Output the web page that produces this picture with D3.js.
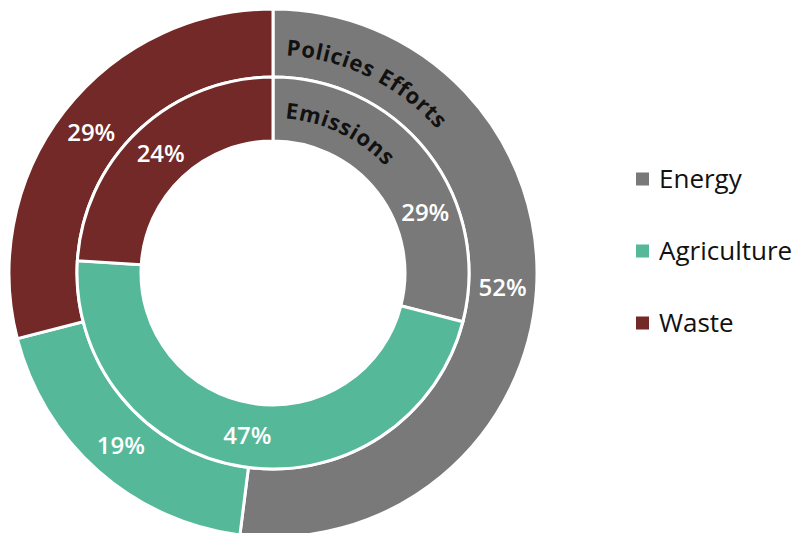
<!DOCTYPE html>
<html>
<head>
<meta charset="utf-8">
<script src="https://cdn.jsdelivr.net/npm/d3@7"></script>
<style>
  html, body { margin: 0; padding: 0; background: #fff; }
  svg { display: block; }
</style>
</head>
<body>
<svg id="chart" width="799" height="533"></svg>
<script>
// Sector shares, in percent
const categories = ["Energy", "Agriculture", "Waste"];
const policiesEfforts = [52, 19, 29];   // outer ring
const emissions = [29, 47, 24];         // inner ring
const ringTitles = ["Policies Efforts", "Emissions"];
const colors = ["#797979", "#55b899", "#722927"];

const svg = d3.select("#chart");
const cx = 273, cy = 273;
const rings = [
  { title: ringTitles[0], values: policiesEfforts, inner: 196, outer: 264, titleR: 218, titleStart: 3.4 },
  { title: ringTitles[1], values: emissions, inner: 132, outer: 196, titleR: 155, titleStart: 4.4 }
];
// angular nudge (degrees) for labels that would collide with the ring title
const labelShift = [[0, 0, 0], [16, 0, 0]];

const color = d3.scaleOrdinal().domain(categories).range(colors);
const pie = d3.pie().sort(null).value(d => d.value);

const g = svg.append("g").attr("transform", `translate(${cx},${cy})`);

const titleFont = { family: "'Open Sans', sans-serif", weight: 700, size: 22, spacing: 0.7 };

// measure one character in the title font
const probe = svg.append("text")
  .style("font-family", titleFont.family)
  .style("font-weight", titleFont.weight)
  .style("font-size", titleFont.size + "px")
  .attr("visibility", "hidden");
function charWidth(ch) {
  if (ch === " ") return titleFont.size * 0.27;
  probe.text(ch);
  return probe.node().getComputedTextLength();
}

rings.forEach((ring, ri) => {
  const data = pie(categories.map((c, i) => ({ cat: c, value: ring.values[i] })));
  const arc = d3.arc().innerRadius(ring.inner).outerRadius(ring.outer);
  const rg = g.append("g");
  rg.selectAll("path")
    .data(data)
    .join("path")
    .attr("d", arc)
    .attr("fill", d => color(d.data.cat))
    .attr("stroke", "#fff")
    .attr("stroke-width", 3);

  const mid = (ring.inner + ring.outer) / 2;
  rg.selectAll("text.pct")
    .data(data)
    .join("text")
    .attr("class", "pct")
    .attr("transform", (d, i) => {
      const a = (d.startAngle + d.endAngle) / 2 + labelShift[ri][i] * Math.PI / 180;
      return `translate(${mid * Math.sin(a)},${-mid * Math.cos(a)})`;
    })
    .attr("text-anchor", "middle")
    .attr("dy", "0.36em")
    .attr("fill", "#fff")
    .style("font-family", "'Open Sans', sans-serif")
    .style("font-weight", 600)
    .style("font-size", "24px")
    .text(d => d.data.value + "%");

  // ring title, set letter by letter along the arc
  const r = ring.titleR;
  let offset = ring.titleStart * Math.PI / 180 * r;
  const letters = [];
  for (const ch of ring.title) {
    const w = charWidth(ch);
    letters.push({ ch, a: (offset + w / 2) / r });
    offset += w + titleFont.spacing;
  }
  rg.selectAll("text.title")
    .data(letters.filter(l => l.ch !== " "))
    .join("text")
    .attr("class", "title")
    .attr("transform", l => `translate(${r * Math.sin(l.a)},${-r * Math.cos(l.a)}) rotate(${l.a * 180 / Math.PI})`)
    .attr("text-anchor", "middle")
    .attr("fill", "#111")
    .style("font-family", titleFont.family)
    .style("font-weight", titleFont.weight)
    .style("font-size", titleFont.size + "px")
    .text(l => l.ch);
});
probe.remove();

// legend
const legend = svg.append("g").attr("transform", "translate(636,179)");
const rows = legend.selectAll("g")
  .data(categories)
  .join("g")
  .attr("transform", (d, i) => `translate(0,${i * 72})`);
rows.append("rect")
  .attr("x", 0).attr("y", -6.5)
  .attr("width", 13).attr("height", 13)
  .attr("fill", d => color(d));
rows.append("text")
  .attr("x", 23)
  .attr("dy", "0.36em")
  .attr("fill", "#111")
  .style("font-family", "'Open Sans', sans-serif")
  .style("font-size", "26px")
  .text(d => d);
</script>
</body>
</html>
